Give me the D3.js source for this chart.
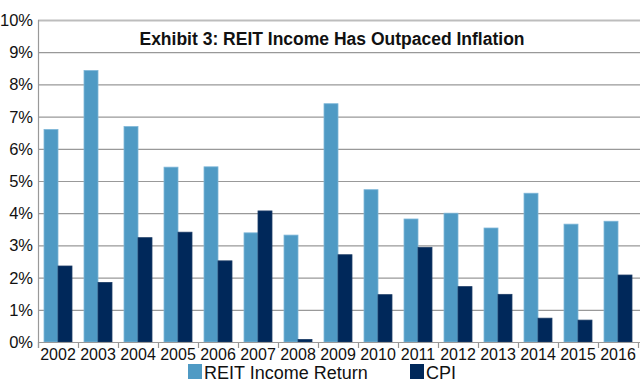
<!DOCTYPE html>
<html><head><meta charset="utf-8">
<script src="https://cdn.jsdelivr.net/npm/d3@7/dist/d3.min.js"></script>
<style>body{margin:0;background:#fff}svg{display:block}text{font-family:"Liberation Sans",Arial,sans-serif}</style>
</head><body><svg id="c" width="640" height="382"></svg>
<script>
const years = ["2002","2003","2004","2005","2006","2007","2008","2009","2010","2011","2012","2013","2014","2015","2016"];
const reitIncome = [6.6,8.43,6.69,5.43,5.44,3.39,3.32,7.40,4.73,3.82,4.0,3.54,4.62,3.66,3.75];
const cpi = [2.36,1.85,3.24,3.41,2.52,4.07,0.08,2.71,1.47,2.94,1.72,1.48,0.74,0.68,2.08];
const yTicks = [0,1,2,3,4,5,6,7,8,9,10];
const seriesNames = ["REIT Income Return","CPI"];
const colors = ["#4f9ac4","#00285a"];
const title = "Exhibit 3: REIT Income Has Outpaced Inflation";

const svg = d3.select("#c");
const L = 38, R = 638, T = 20, B = 342;
const x = d3.scaleBand().domain(years).range([L, R]).paddingInner(0).paddingOuter(0);
const x1 = d3.scaleBand().domain([0,1]).range([0, x.bandwidth()]).paddingInner(0).paddingOuter(0.43);
const y = d3.scaleLinear().domain([0,10]).range([B, T]);

// gridlines
svg.append("g").selectAll("line").data(yTicks.filter(d=>d>0)).join("line")
  .attr("x1", L).attr("x2", 640).attr("y1", d=>y(d)+0.5).attr("y2", d=>y(d)+0.5)
  .attr("stroke", d=> d===10 ? "#bdbdbd" : "#999").attr("stroke-width", d=> d===10 ? 2 : 1.2);

// y labels
svg.append("g").selectAll("text").data(yTicks).join("text")
  .attr("x", 33).attr("y", d=>y(d)+6).attr("text-anchor","end")
  .attr("font-size", 16.5).attr("fill","#111").text(d=>d+"%");

// bars
const data = years.map((yr,i)=>({yr, vals:[reitIncome[i], cpi[i]]}));
const g = svg.append("g").selectAll("g").data(data).join("g")
  .attr("transform", d=>`translate(${x(d.yr)},0)`);
g.selectAll("rect").data(d=>d.vals.map((v,k)=>({v,k}))).join("rect")
  .attr("x", d=>x1(d.k)).attr("width", x1.bandwidth())
  .attr("y", d=>y(d.v)).attr("height", d=>B - y(d.v))
  .attr("fill", d=>colors[d.k])
  .attr("stroke", d=> d.k===0 ? "#7db6d8" : "#1c3c66").attr("stroke-width", 0.8);

// axes lines
svg.append("line").attr("x1", L+0.5).attr("x2", L+0.5).attr("y1", T).attr("y2", B+6).attr("stroke","#999").attr("stroke-width",1.2);
svg.append("line").attr("x1", L).attr("x2", 640).attr("y1", B+0.5).attr("y2", B+0.5).attr("stroke","#999").attr("stroke-width",1.2);
// x ticks at band boundaries
svg.append("g").selectAll("line").data(years.concat(["end"])).join("line")
  .attr("x1", (d,i)=>L + i*x.bandwidth()+0.5).attr("x2", (d,i)=>L + i*x.bandwidth()+0.5)
  .attr("y1", B).attr("y2", B+6).attr("stroke","#999").attr("stroke-width",1.2);
svg.append("g").selectAll("text").data(years).join("text")
  .attr("x", d=>x(d)+x.bandwidth()/2).attr("y", B+18).attr("text-anchor","middle")
  .attr("font-size", 16).attr("fill","#111").text(d=>d);

// title
svg.append("text").attr("x", 332).attr("y", 45).attr("text-anchor","middle")
  .attr("font-size", 17.5).attr("font-weight","bold").attr("fill","#111").text(title);

// legend
const legX = [188, 410];
seriesNames.forEach((n,i)=>{
  svg.append("rect").attr("x", legX[i]).attr("y", 364).attr("width", 14).attr("height", 15).attr("fill", colors[i]);
  svg.append("text").attr("x", legX[i]+16).attr("y", 378.5).attr("font-size", 18).attr("fill","#111").text(n);
});
</script></body></html>
